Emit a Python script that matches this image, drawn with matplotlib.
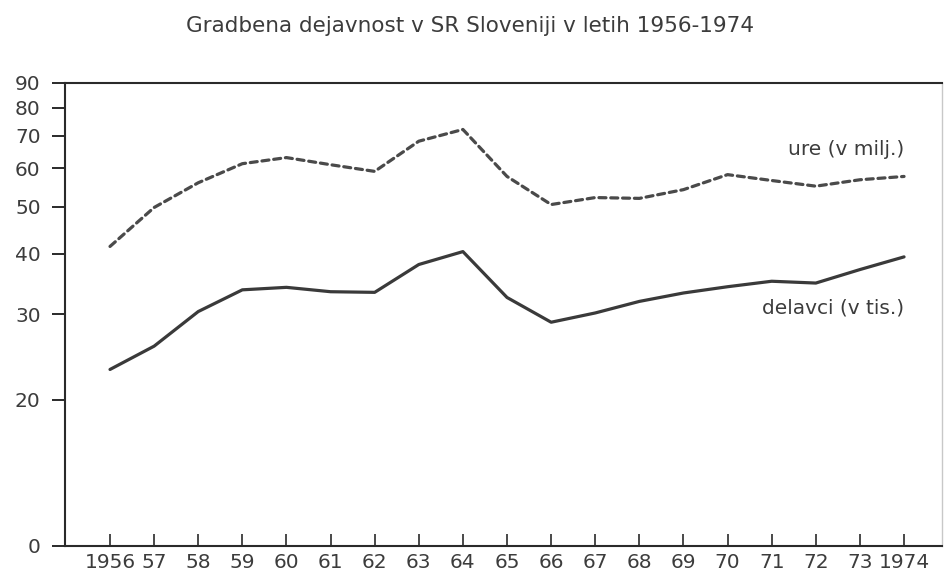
import matplotlib.pyplot as plt
import numpy as np

# podatki odčitani s slike
leta = np.arange(1956, 1975)
ure = [41.4, 49.8, 56.0, 61.3, 63.1, 61.0, 59.1, 68.2, 72.1, 57.7,
       50.5, 52.2, 52.0, 54.2, 58.2, 56.6, 55.1, 56.8, 57.7]        # v milj.
delavci = [23.1, 25.8, 30.4, 33.7, 34.1, 33.4, 33.3, 38.0, 40.4, 32.5,
           28.9, 30.2, 31.9, 33.2, 34.2, 35.1, 34.8, 37.1, 39.4]     # v tis.

x_labels = ['1956', '57', '58', '59', '60', '61', '62', '63', '64', '65',
            '66', '67', '68', '69', '70', '71', '72', '73', '1974']
y_ticks = [10, 20, 30, 40, 50, 60, 70, 80, 90]
y_labels = ['0', '20', '30', '40', '50', '60', '70', '80', '90']

plt.rcParams['font.family'] = ['DejaVu Sans']
txt = '#3c3c3c'
ink = '#2a2a2a'

fig = plt.figure(figsize=(9.45, 5.76), dpi=100)
ax = fig.add_axes([0.0688, 0.0521, 0.928, 0.8043])

ax.plot(leta, ure, color='#4a4a4a', lw=2.3, linestyle=(0, (2.2, 1.5)),
        dash_capstyle='round')
ax.plot(leta, delavci, color='#3a3a3a', lw=2.3, solid_capstyle='round')

ax.set_yscale('log')
ax.set_ylim(10, 90)
ax.set_xlim(1954.98, 1974.86)
ax.set_yticks(y_ticks)
ax.set_yticklabels(y_labels)
ax.minorticks_off()
ax.set_xticks(leta)
ax.set_xticklabels(x_labels)

ax.tick_params(axis='y', direction='out', length=9.5, width=1.4, color=ink,
               pad=8, labelsize=14.5, labelcolor=txt)
ax.tick_params(axis='x', direction='in', length=8.5, width=1.2, color=ink,
               pad=5, labelsize=14.5, labelcolor=txt)

for s in ['left', 'top', 'bottom']:
    ax.spines[s].set_color(ink)
    ax.spines[s].set_linewidth(1.5)
ax.spines['right'].set_color('#c8c8c8')
ax.spines['right'].set_linewidth(1.0)

ax.text(1974, 65.5, 'ure (v milj.)', ha='right', va='center',
        fontsize=14.5, color=txt)
ax.text(1974, 30.9, 'delavci (v tis.)', ha='right', va='center',
        fontsize=14.5, color=txt)

fig.text(0.497, 0.955, 'Gradbena dejavnost v SR Sloveniji v letih 1956-1974',
         ha='center', va='center', fontsize=15.5, color=txt)

fig.savefig('out.png', dpi=100)
